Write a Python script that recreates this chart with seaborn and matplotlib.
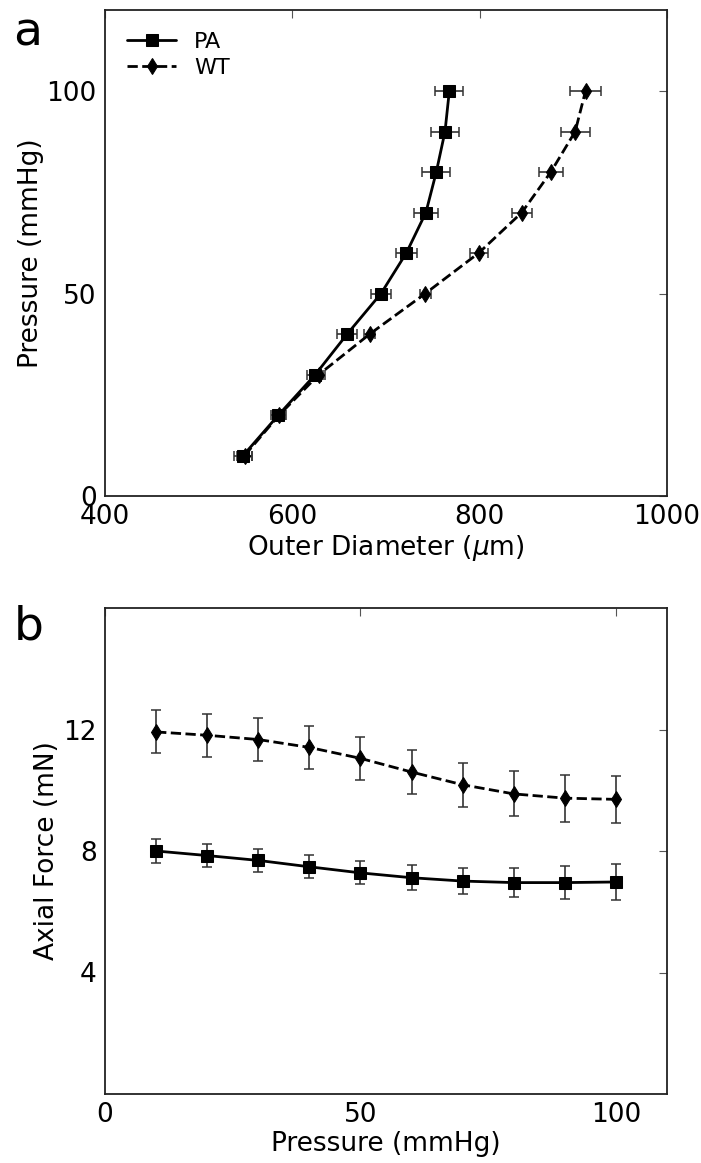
import numpy as np
import pandas as pd
import matplotlib
matplotlib.use("Agg")
import matplotlib.pyplot as plt
import seaborn as sns

# pressure steps (mmHg)
pressure = [10, 20, 30, 40, 50, 60, 70, 80, 90, 100]

# panel a: outer diameter (um) vs pressure
pa_diam = [547.5, 585.2, 624.6, 658.6, 694.7, 721.7, 742.6, 753.7, 763.0, 767.6]
pa_diam_err = [9.8, 8.0, 8.6, 10.9, 10.5, 11.5, 12.7, 14.8, 15.0, 15.0]
wt_diam = [549.0, 586.0, 628.4, 682.7, 742.0, 799.0, 845.0, 876.0, 902.0, 913.0]
wt_diam_err = [8.0, 6.0, 7.0, 5.8, 6.0, 9.5, 10.7, 13.0, 15.4, 16.5]

# panel b: axial force (mN) vs pressure
pa_force = [8.00, 7.85, 7.69, 7.48, 7.28, 7.12, 7.01, 6.96, 6.96, 6.98]
pa_force_err = [0.38, 0.38, 0.37, 0.38, 0.38, 0.41, 0.44, 0.48, 0.54, 0.59]
wt_force = [11.92, 11.81, 11.67, 11.41, 11.05, 10.60, 10.18, 9.88, 9.74, 9.70]
wt_force_err = [0.71, 0.71, 0.71, 0.71, 0.70, 0.71, 0.72, 0.74, 0.77, 0.77]

sns.set_style("white")
plt.rcParams["font.family"] = ["DejaVu Sans"]
plt.rcParams["mathtext.fontset"] = "dejavusans"
plt.rcParams["text.color"] = "black"
plt.rcParams["axes.labelcolor"] = "black"
plt.rcParams["xtick.color"] = "black"
plt.rcParams["ytick.color"] = "black"

fig = plt.figure(figsize=(7.01, 11.63), dpi=100)
W, H = 701, 1163
ax_a = fig.add_axes([105 / W, 1 - 496 / H, (667 - 105) / W, (496 - 10) / H])
ax_b = fig.add_axes([105 / W, 1 - 1094 / H, (667 - 105) / W, (1094 - 608) / H])

err_kw = dict(fmt="none", ecolor="#333333", elinewidth=1.2, capsize=3.5, capthick=1.1, zorder=2)
pa_style = dict(color="k", marker="s", markersize=8, linestyle="-", linewidth=2, markeredgecolor="k")
wt_style = dict(color="k", marker="d", markersize=8, linestyle="--", linewidth=2, markeredgecolor="k")

# panel a
df_a = pd.DataFrame({"P": pressure * 2,
                     "D": pa_diam + wt_diam,
                     "grp": ["PA"] * 10 + ["WT"] * 10})
ax_a.errorbar(pa_diam, pressure, xerr=pa_diam_err, **err_kw)
ax_a.errorbar(wt_diam, pressure, xerr=wt_diam_err, **err_kw)
sns.lineplot(data=df_a[df_a.grp == "PA"], x="D", y="P", sort=False, ax=ax_a,
             label="PA", zorder=3, **pa_style)
sns.lineplot(data=df_a[df_a.grp == "WT"], x="D", y="P", sort=False, ax=ax_a,
             label="WT", zorder=3, **wt_style)
ax_a.set_xlim(400, 1000)
ax_a.set_ylim(0, 120)
ax_a.set_xticks([400, 600, 800, 1000])
ax_a.set_yticks([0, 50, 100])
ax_a.set_xlabel("Outer Diameter ($\\mu$m)", fontsize=19, labelpad=2)
ax_a.set_ylabel("Pressure (mmHg)", fontsize=19, labelpad=2)
ax_a.legend(loc="upper left", frameon=False, fontsize=16, handlelength=2.2,
            handletextpad=0.8, borderaxespad=0.6, labelspacing=0.25)

# panel b
df_b = pd.DataFrame({"P": pressure * 2,
                     "F": pa_force + wt_force,
                     "grp": ["PA"] * 10 + ["WT"] * 10})
ax_b.errorbar(pressure, pa_force, yerr=pa_force_err, **err_kw)
ax_b.errorbar(pressure, wt_force, yerr=wt_force_err, **err_kw)
sns.lineplot(data=df_b[df_b.grp == "PA"], x="P", y="F", ax=ax_b, zorder=3, **pa_style)
sns.lineplot(data=df_b[df_b.grp == "WT"], x="P", y="F", ax=ax_b, zorder=3, **wt_style)
ax_b.set_xlim(0, 110)
ax_b.set_ylim(0, 16)
ax_b.set_xticks([0, 50, 100])
ax_b.set_yticks([4, 8, 12])
ax_b.set_xlabel("Pressure (mmHg)", fontsize=19, labelpad=2)
ax_b.set_ylabel("Axial Force (mN)", fontsize=19, labelpad=2)

for ax in (ax_a, ax_b):
    ax.tick_params(direction="in", length=6, width=0.8, labelsize=19,
                   top=True, right=True, color="#555555", pad=6)
    for s in ax.spines.values():
        s.set_linewidth(1.3)
        s.set_color("#222222")

fig.text(13 / W, 1 - 45 / H, "a", fontsize=34, va="baseline")
fig.text(14 / W, 1 - 640 / H, "b", fontsize=34, va="baseline")

fig.savefig("out.png", dpi=100)
